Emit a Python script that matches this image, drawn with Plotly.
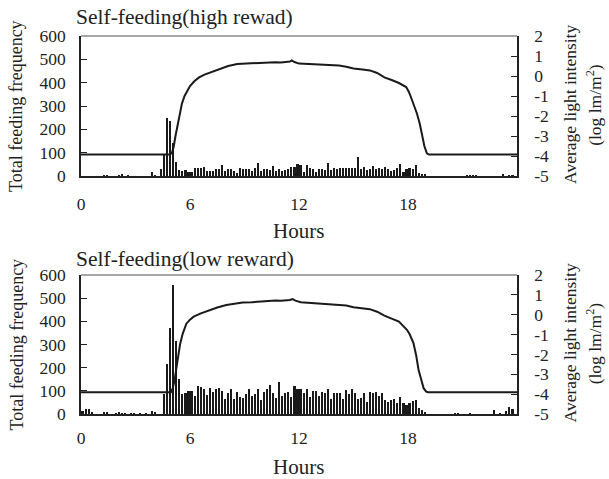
import plotly.graph_objects as go

# ---- data ----
bin_hours = [(i + 0.5) / 6 for i in range(144)]  # 10-min bins

feed_high = (
    [0, 0, 0, 0, 0, 0, 0, 4, 4, 0, 0, 0, 3, 8, 0, 4, 0, 0, 0, 0, 0, 0, 0, 18, 4, 0,
     30, 88, 250, 236, 141, 62]
    + [26, 20, 26, 19, 17, 34, 33, 36, 39, 23, 20, 23, 30, 31, 47]
    + [21, 31, 29, 21, 11, 33, 31, 29, 29, 21, 36, 54, 23, 30, 30, 24, 43, 21, 31, 23,
       24, 31, 39, 39, 50, 46, 17, 47, 36, 31, 17, 30, 30, 27, 54, 27, 34, 30, 34, 33,
       34, 33, 36, 36, 81, 31, 40, 24]
    + [30, 43, 31, 34, 29, 39, 31, 20, 27, 33, 53, 16, 29, 34, 31, 46, 12, 10, 10]
    + [0, 0, 0, 0, 0, 0, 0, 0, 0, 0, 0, 0, 0, 3, 3, 3, 3, 0, 0, 0, 0, 0, 0, 0, 0, 8, 0, 4, 4, 0]
)

feed_low = (
    [11, 23, 23, 8, 0, 0, 0, 6, 6, 0, 0, 3, 5, 2, 2, 0, 2, 2, 0, 2, 0, 2, 0, 14, 7, 0, 0,
     88, 217, 370, 557, 317, 153]
    + [86, 89, 98, 101, 79, 123, 115, 107, 81, 111, 94, 108, 111, 101]
    + [63, 92, 110, 66, 95, 73, 70, 85, 106, 77, 85, 106, 60, 95, 109, 125, 89, 69, 138, 77,
       92, 95, 73, 121, 106, 106, 92, 106, 73, 99, 99, 77, 95, 92, 110, 66, 89, 89, 89, 66,
       103, 87, 106, 92, 66, 70, 89, 53, 95]
    + [89, 95, 77, 92, 60, 51, 60, 66, 49, 75, 49, 39, 46, 56, 62, 27, 17, 9]
    + [0, 0, 0, 0, 0, 0, 0, 0, 0, 2, 2, 0, 0, 0, 4, 0, 0, 0, 0, 0, 0, 0, 17, 0, 3, 0, 11, 31, 20, 0]
)

light_hours_high = [0, 4.9, 5.0, 5.1, 5.2, 5.3, 5.4, 5.55, 5.7, 5.85, 6.0, 6.25, 6.5, 6.8,
                    7.1, 7.4, 7.7, 8.1, 8.6, 9.0, 9.5, 9.9, 10.3, 10.7, 11.0, 11.3, 11.5,
                    11.6, 11.75, 12.0, 12.5, 13.1, 13.6, 14.2, 14.6, 15.0, 15.5, 15.9, 16.3,
                    16.7, 17.1, 17.5, 17.9, 18.05, 18.2, 18.35, 18.5, 18.65, 18.77, 18.9,
                    19.04, 19.15, 24]
light_high = [-3.93, -3.93, -3.85, -3.55, -3.0, -2.55, -2.1, -1.4, -1.0, -0.75, -0.5, -0.25,
              -0.07, 0.07, 0.17, 0.3, 0.4, 0.5, 0.6, 0.62, 0.64, 0.67, 0.7, 0.69, 0.68, 0.69,
              0.72, 0.78, 0.7, 0.62, 0.6, 0.58, 0.55, 0.52, 0.46, 0.38, 0.33, 0.28, 0.15,
              -0.07, -0.2, -0.35, -0.55, -0.8, -1.15, -1.5, -1.9, -2.4, -3.0, -3.5, -3.87,
              -3.93, -3.93]

light_hours_low = [0, 4.95, 5.05, 5.15, 5.25, 5.35, 5.45, 5.6, 5.8, 6.0, 6.2, 6.6, 7.1, 7.5,
                   8.0, 8.5, 8.9, 9.4, 9.8, 10.2, 10.7, 11.0, 11.3, 11.5, 11.65, 11.8, 12.1,
                   12.6, 13.1, 13.6, 14.2, 14.6, 15.0, 15.5, 15.9, 16.3, 16.7, 17.1, 17.5,
                   17.94, 18.1, 18.3, 18.45, 18.58, 18.72, 18.86, 19.0, 19.1, 24]
light_low = [-3.9, -3.9, -3.7, -3.3, -2.7, -2.1, -1.5, -0.95, -0.45, -0.25, -0.1, 0.07, 0.24,
             0.36, 0.49, 0.56, 0.61, 0.63, 0.66, 0.69, 0.72, 0.7, 0.71, 0.74, 0.79, 0.71,
             0.63, 0.6, 0.58, 0.55, 0.5, 0.46, 0.38, 0.33, 0.28, 0.15, -0.05, -0.2, -0.35,
             -0.76, -1.0, -1.43, -2.05, -2.77, -3.3, -3.7, -3.87, -3.9, -3.9]

x_ticks = [0, 6, 12, 18]
left_ticks = [0, 100, 200, 300, 400, 500, 600]
right_ticks = [-5, -4, -3, -2, -1, 0, 1, 2]
right_ticktext = ["-5", "-4", "-3", "-2", "-1", "0", "1", "2"]

titles = ["Self-feeding(high rewad)", "Self-feeding(low reward)"]

# ---- figure ----
FONT = "Liberation Serif, Times New Roman, serif"
BAR_C = "#1a1a1a"
fig = go.Figure()

fig.add_trace(go.Bar(x=bin_hours, y=feed_high, width=0.115, marker_color=BAR_C,
                     marker_line_width=0, xaxis="x", yaxis="y", showlegend=False))
fig.add_trace(go.Scatter(x=light_hours_high, y=light_high, mode="lines",
                         line=dict(color="#1a1a1a", width=2), xaxis="x", yaxis="y2",
                         showlegend=False))
fig.add_trace(go.Bar(x=bin_hours, y=feed_low, width=0.115, marker_color=BAR_C,
                     marker_line_width=0, xaxis="x2", yaxis="y3", showlegend=False))
fig.add_trace(go.Scatter(x=light_hours_low, y=light_low, mode="lines",
                         line=dict(color="#1a1a1a", width=2), xaxis="x2", yaxis="y4",
                         showlegend=False))

top_dom = [0.6296, 1.0]
bot_dom = [0.0, 0.3677]
tickfont = dict(family=FONT, size=17.5, color="#222")

xcommon = dict(range=[0, 24], tickvals=x_ticks, showgrid=False, zeroline=False,
               showline=True, linecolor="#222", linewidth=1.5, ticks="",
               tickfont=tickfont, domain=[0, 1])
ylcommon = dict(range=[0, 600], tickvals=left_ticks, showgrid=False, zeroline=False,
                showline=True, linecolor="#222", linewidth=1.5, ticks="inside",
                ticklen=6, tickcolor="#222", tickwidth=1, tickfont=tickfont,
                ticklabelstandoff=10)
yrcommon = dict(range=[-5, 2], tickvals=right_ticks, ticktext=right_ticktext,
                showgrid=False, zeroline=False, showline=True, linecolor="#222",
                linewidth=1.5, ticks="inside", ticklen=6, tickcolor="#222", tickwidth=1,
                tickfont=tickfont, side="right", ticklabelstandoff=12)

fig.update_layout(
    width=609, height=479,
    margin=dict(l=81, r=92, t=36, b=65),
    paper_bgcolor="white", plot_bgcolor="white",
    bargap=0,
    font=dict(family=FONT, color="#222"),
    xaxis=dict(**xcommon, anchor="y", ticklabelstandoff=11),
    xaxis2=dict(**xcommon, anchor="y3", ticklabelstandoff=7),
    yaxis=dict(**ylcommon, domain=top_dom, anchor="x"),
    yaxis2=dict(**yrcommon, overlaying="y", anchor="x"),
    yaxis3=dict(**ylcommon, domain=bot_dom, anchor="x2"),
    yaxis4=dict(**yrcommon, overlaying="y3", anchor="x2"),
)

# grey top borders of the frames
for dom in (top_dom, bot_dom):
    fig.add_shape(type="line", xref="paper", yref="paper", x0=0, x1=1,
                  y0=dom[1], y1=dom[1], line=dict(color="#8a8a8a", width=1.5))

ann_font = dict(family=FONT, size=21.5, color="#222")
hours_font = dict(family=FONT, size=21, color="#222")
lab_font = dict(family=FONT, size=18, color="#222")
rlab_font = dict(family=FONT, size=17.5, color="#222")
panels = [(top_dom, titles[0], 1.050, 0.484), (bot_dom, titles[1], 0.410, -0.140)]
for dom, title, ty, hy in panels:
    mid = (dom[0] + dom[1]) / 2
    fig.add_annotation(text=title, xref="paper", yref="paper", x=-0.016, y=ty,
                       xanchor="left", yanchor="middle", showarrow=False, font=ann_font)
    fig.add_annotation(text="Hours", xref="paper", yref="paper", x=0.498, y=hy,
                       xanchor="center", yanchor="middle", showarrow=False, font=hours_font)
    fig.add_annotation(text="Total feeding frequency", xref="paper", yref="paper",
                       x=-0.149, y=mid, textangle=-90, xanchor="center",
                       yanchor="middle", showarrow=False, font=lab_font)
    fig.add_annotation(text="Average light intensity", xref="paper", yref="paper",
                       x=1.1216, y=mid + 0.003, textangle=-90, xanchor="center",
                       yanchor="middle", showarrow=False, font=rlab_font)
    fig.add_annotation(text="(log lm/m<sup>2</sup>)", xref="paper", yref="paper",
                       x=1.1766, y=mid + 0.003, textangle=-90, xanchor="center",
                       yanchor="middle", showarrow=False, font=rlab_font)

fig.write_html(
    "out.html",
    config={"displayModeBar": False},
    post_script="document.body.style.margin='0';document.body.style.overflow='hidden';",
)
